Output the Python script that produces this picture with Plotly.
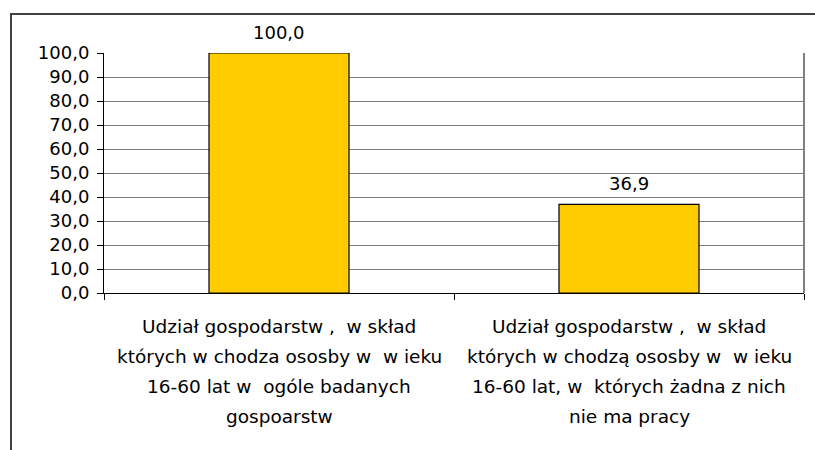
import plotly.graph_objects as go

category_lines = [
    ["Udział gospodarstw ,  w skład",
     "których w chodza ososby w  w ieku",
     "16-60 lat w  ogóle badanych",
     "gospoarstw"],
    ["Udział gospodarstw ,  w skład",
     "których w chodzą ososby w  w ieku",
     "16-60 lat, w  których żadna z nich",
     "nie ma pracy"],
]
categories = ["<br>".join(c) for c in category_lines]
values = [100.0, 36.9]
value_labels = ["100,0", "36,9"]
y_ticks = [0, 10, 20, 30, 40, 50, 60, 70, 80, 90, 100]

W, H = 815, 450
L, R, T, B = 104, 11, 53, 157
pw, ph = W - L - R, H - T - B

FONT = "DejaVu Sans, Arial, sans-serif"
FS = 18
FS_CAT = 18.5

fig = go.Figure()
fig.add_trace(go.Bar(
    x=categories, y=values,
    marker=dict(color="#FFCC00", line=dict(color="#000000", width=1.2)),
    width=0.4, hoverinfo="skip",
))

# value labels
for c, v, t in zip(categories, values, value_labels):
    fig.add_annotation(x=c, y=v, xref="x", yref="y", text=t, showarrow=False,
                       yanchor="bottom", yshift=8,
                       font=dict(family=FONT, size=FS, color="#000"))

# category labels (multi-line)
line_y = [326, 356, 386, 416]
for c, lines in zip(categories, category_lines):
    for ln, py in zip(lines, line_y):
        fig.add_annotation(x=c, xref="x", y=(H - B - py) / ph, yref="paper",
                           text=ln.replace("  ", " \u00a0"), showarrow=False,
                           yanchor="middle", xanchor="center",
                           font=dict(family=FONT, size=FS_CAT, color="#000"))


def px_x(px):
    return (px - L) / pw


def px_y(py):
    return (H - B - py) / ph


# outer frame (top and left edges)
fig.add_shape(type="line", xref="paper", yref="paper",
              x0=px_x(10), x1=px_x(815), y0=px_y(14), y1=px_y(14),
              line=dict(color="#404040", width=2))
fig.add_shape(type="line", xref="paper", yref="paper",
              x0=px_x(11), x1=px_x(11), y0=px_y(14), y1=px_y(452),
              line=dict(color="#404040", width=2))
# right border of plot area
fig.add_shape(type="line", xref="paper", yref="paper",
              x0=1, x1=1, y0=0, y1=1,
              line=dict(color="#808080", width=2))

fig.update_layout(
    width=W, height=H,
    margin=dict(l=L, r=R, t=T, b=B),
    paper_bgcolor="white", plot_bgcolor="white",
    separators=", ",
    showlegend=False,
    bargap=0.6,
    xaxis=dict(
        showticklabels=False, ticks="outside", tickson="boundaries",
        ticklen=6, tickcolor="#000", showline=True, linecolor="#000",
        linewidth=1, showgrid=False, zeroline=False,
    ),
    yaxis=dict(
        range=[0, 100], tickvals=y_ticks, tickformat=".1f",
        ticks="outside", ticklen=6, tickcolor="#000",
        ticklabelstandoff=4,
        showline=True, linecolor="#000", linewidth=1,
        showgrid=True, gridcolor="#808080", gridwidth=1,
        zeroline=False,
        tickfont=dict(family=FONT, size=FS, color="#000"),
    ),
)

fig.write_html("out.html",
               config={"displayModeBar": False},
               post_script="document.body.style.margin='0';document.body.style.overflow='hidden';")
